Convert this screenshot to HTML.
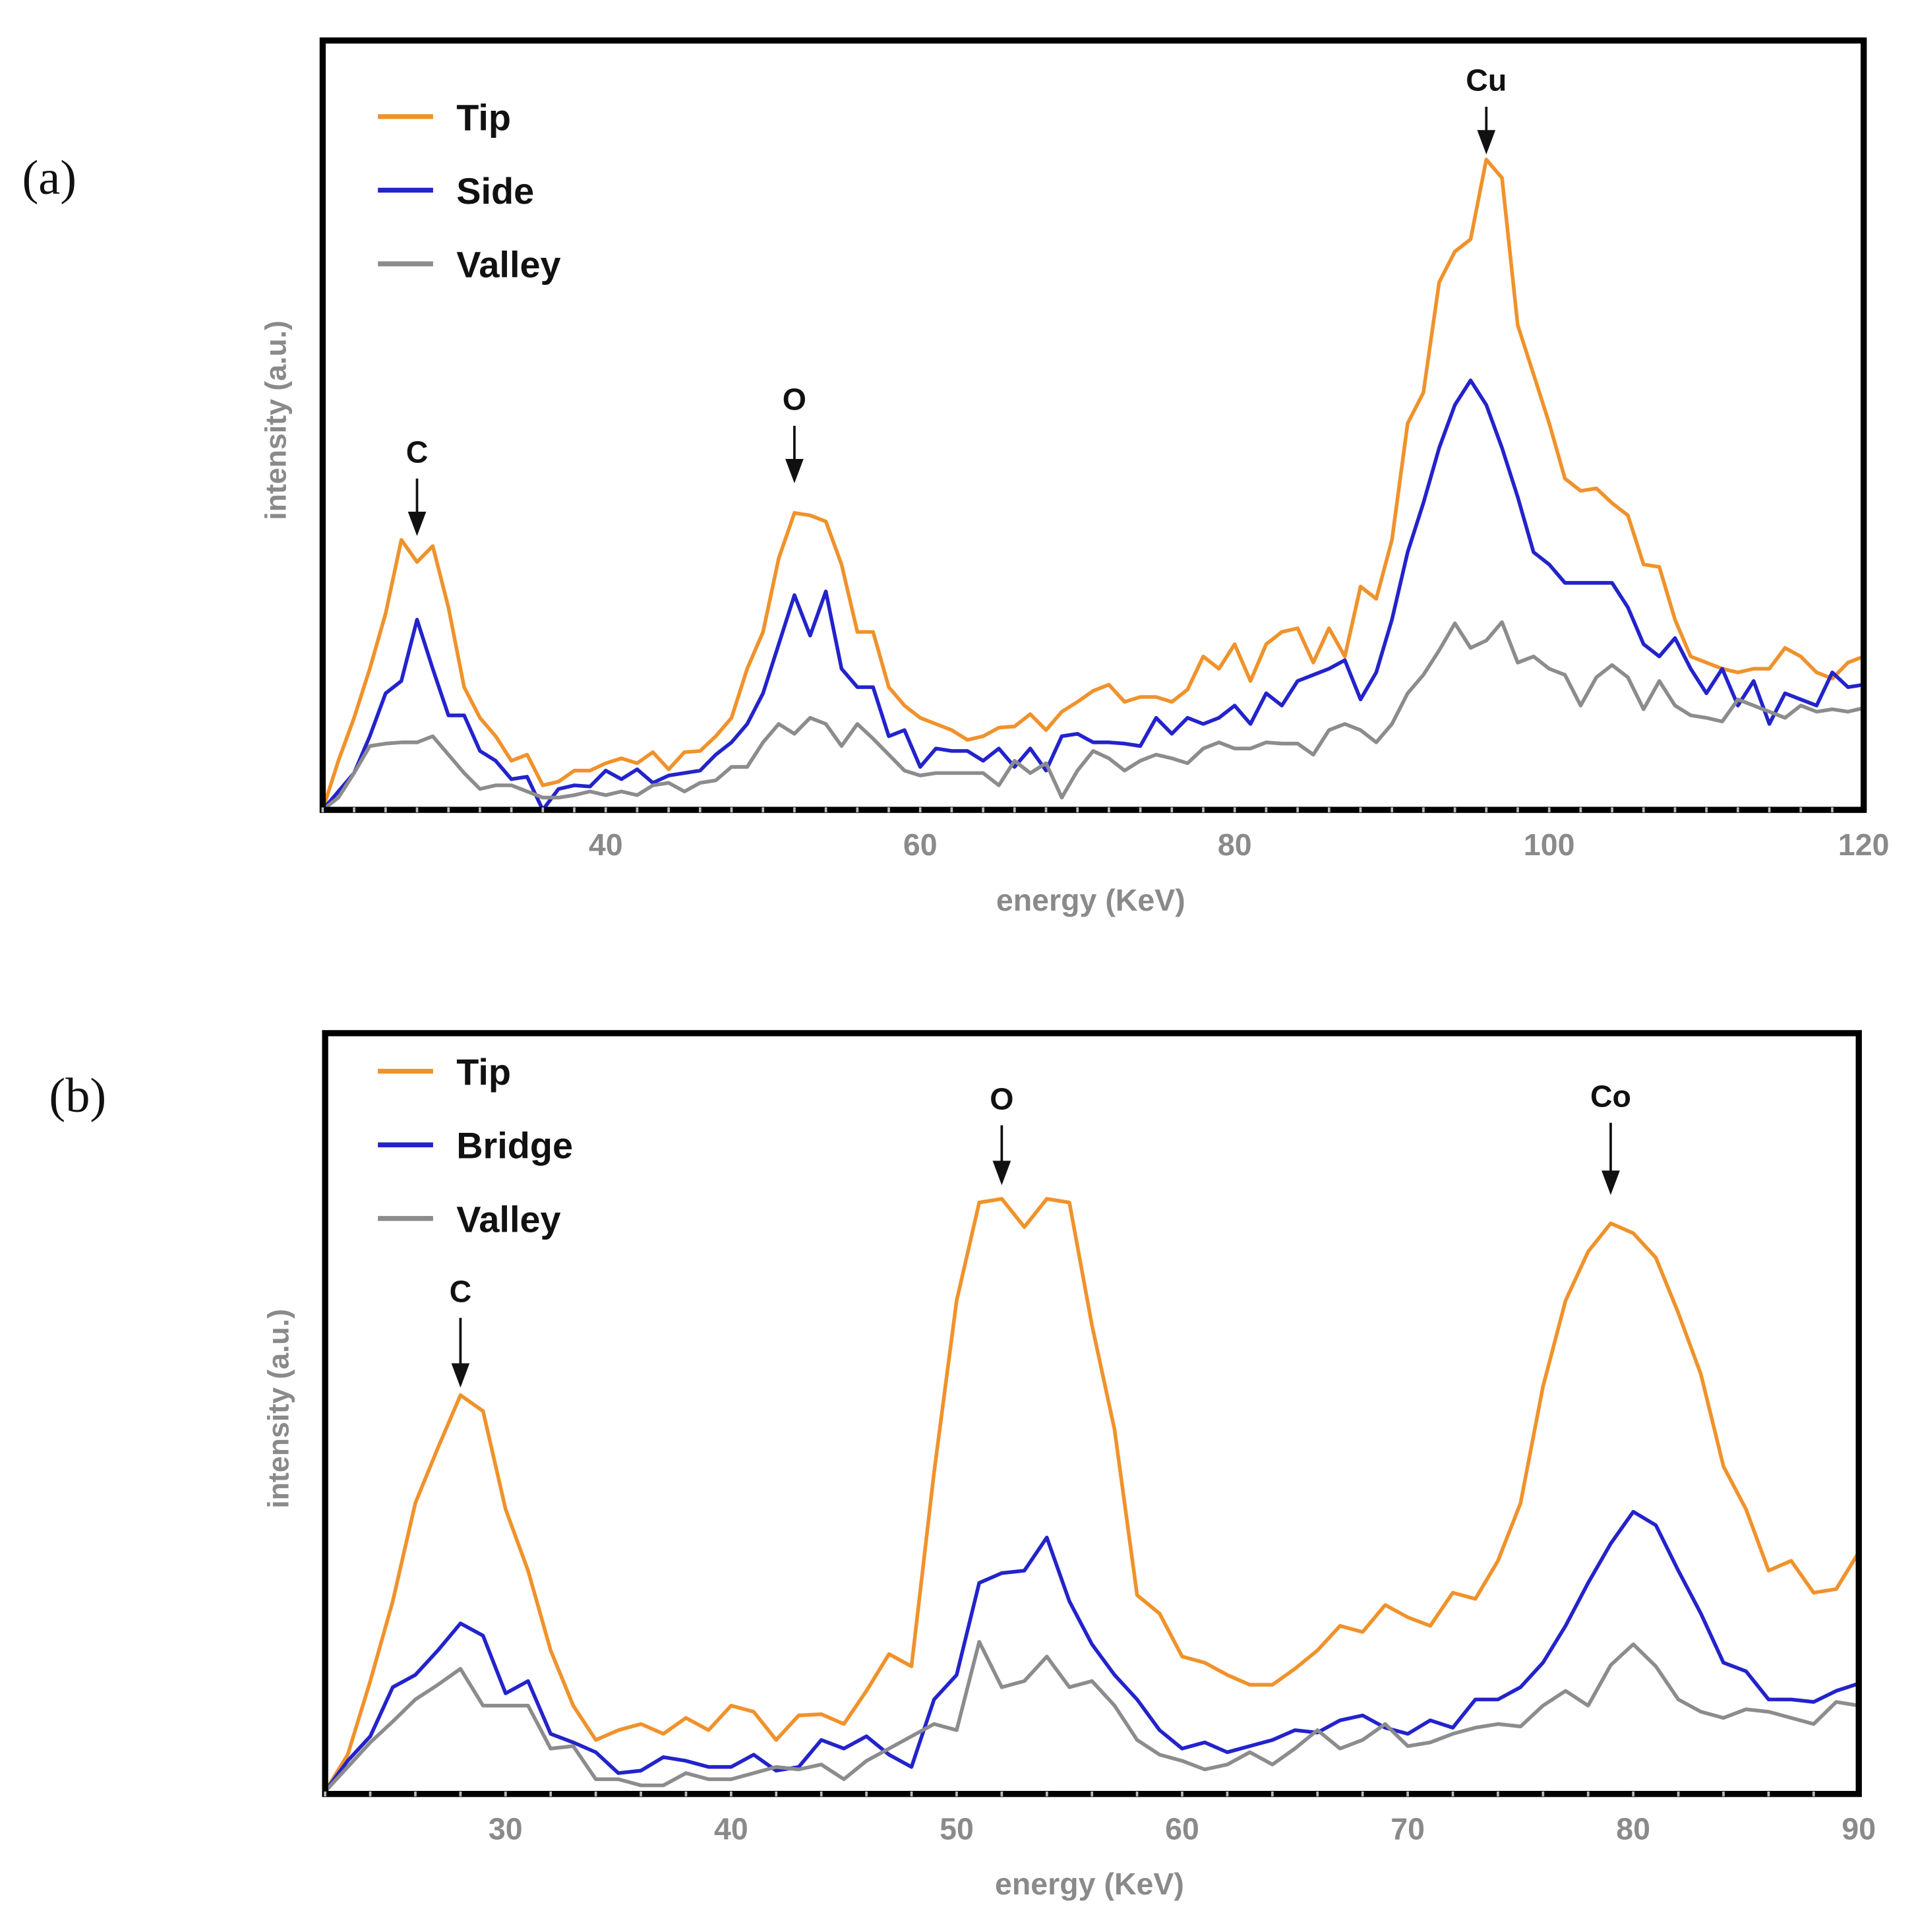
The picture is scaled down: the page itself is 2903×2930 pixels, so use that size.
<!DOCTYPE html>
<html><head><meta charset="utf-8"><style>
html,body{margin:0;padding:0;background:#fff}
svg{display:block}
text{font-family:"Liberation Sans",Arial,sans-serif}
</style></head><body>
<svg id="fig" width="2903" height="2930" viewBox="0 0 1560 1574.5" preserveAspectRatio="none" xmlns="http://www.w3.org/2000/svg">
<text x="18" y="158" font-size="40" fill="#111" style="font-family:'Liberation Serif',serif">(a)</text>
<text x="40" y="906" font-size="40" fill="#111" style="font-family:'Liberation Serif',serif">(b)</text>
<g id="pa"></g>
<g id="pb"></g>
</svg>
<script>
// Panel (a) data
const xA = []; for (let e = 22; e <= 120; e++) xA.push(e);
const tipA = [0,40,75,115,160,220,202,215,165,100, 75,60,40,45,20,23,32,32,38,42, 38,47,33,47,48,60,75,115,145,205, 242,240,235,200,145,145,100,85,75,70, 65,57,60,67,68,78,65,80,88,97, 102,88,92,92,88,98,125,115,135,105, 135,145,148,120,148,125,182,172,220,315, 340,430,455,465,530,515,395,355,315,270, 260,262,250,240,200,198,155,125,120,115, 112,115,115,132,125,112,107,120,125];
const sideA = [0,15,30,60,95,105,155,115,77,77, 48,40,25,27,0,17,20,19,32,25, 33,22,28,30,32,45,55,70,95,135, 175,142,178,115,100,100,60,65,35,50, 48,48,40,50,35,50,32,60,62,55, 55,54,52,75,62,75,70,75,85,70, 95,85,105,110,115,122,90,112,155,210, 250,295,330,350,330,295,255,210,200,185, 185,185,185,165,135,125,140,115,95,115, 85,105,70,95,90,85,112,100,102];
const valleyA = [0,10,30,52,54,55,55,60,45,30, 17,20,20,15,10,10,12,15,12,15, 12,20,22,15,22,24,35,35,55,70, 62,75,70,52,70,58,45,32,28,30, 30,30,30,20,40,30,38,10,32,48, 42,32,40,45,42,38,50,55,50,50, 55,54,54,45,65,70,65,55,70,95, 110,130,152,132,138,153,120,125,115,110, 85,108,118,108,82,105,85,77,75,72, 90,85,80,75,85,80,82,80,83];
const ticksA = [40,60,80,100,120];
const namesA = ["Tip","Side","Valley"];
const peaksA = [{l:"C",x:28,v:222},{l:"O",x:52,v:265},{l:"Cu",x:96,v:533}];
const peakGapA = [70,70,62];

// Panel (b) data
const xB = []; for (let e = 22; e <= 90; e++) xB.push(e);
const tipB = [2,32,92,157,237,282,325,312,232,182, 117,72,44,52,57,49,62,52,72,67, 44,64,65,57,84,114,104,262,402,482, 485,462,485,482,382,297,162,147,112,107, 97,89,89,102,117,137,132,154,144,137, 164,159,190,237,332,402,442,465,457,437, 392,342,267,232,182,190,164,167,197];
const bridgeB = [2,27,47,87,97,117,139,129,82,92, 49,42,34,17,19,30,27,22,22,32, 19,22,44,37,47,32,22,77,97,172, 180,182,209,157,122,97,77,52,37,42, 34,39,44,52,50,60,64,54,49,60, 54,77,77,87,107,137,172,204,230,219, 182,147,107,100,77,77,75,84,90];
const valleyB = [2,22,42,59,77,89,102,72,72,72, 37,39,12,12,7,7,17,12,12,17, 22,20,24,12,27,37,47,57,52,124, 87,92,112,87,92,72,44,32,27,20, 24,34,24,37,52,37,44,57,39,42, 49,54,57,55,72,84,72,105,122,104, 77,67,62,69,67,62,57,75,72];
const ticksB = [30,40,50,60,70,80,90];
const namesB = ["Tip","Bridge","Valley"];
const peaksB = [{l:"C",x:28,v:330},{l:"O",x:52,v:495},{l:"Co",x:79,v:487}];
const peakGapB = [80,72,82];

const COLORS = ["#f0922b","#2323cc","#8c8c8c"];
const NS = "http://www.w3.org/2000/svg";
function mk(parent, tag, attrs, txt){
  const el = document.createElementNS(NS, tag);
  for (const k in attrs) el.setAttribute(k, attrs[k]);
  if (txt !== undefined) el.textContent = txt;
  parent.appendChild(el); return el;
}
function draw(g, cfg){
  const {L,R,T,B,xmin,xmax,ymax,xs,series,names,ticks,minorStep,peaks,gaps,legY,id} = cfg;
  const sx = v => L + (v - xmin) / (xmax - xmin) * (R - L);
  const sy = v => B - v / ymax * (B - T);
  series.forEach((s, i) => {
    const d = s.map((v, j) => (j ? "L" : "M") + sx(xs[j]).toFixed(1) + " " + sy(v).toFixed(1)).join(" ");
    const p = mk(g, "path", {d, fill:"none", stroke:COLORS[i], "stroke-width":3, "stroke-linejoin":"round"});
    
    
  });
  const fr = mk(g, "rect", {x:L, y:T, width:R-L, height:B-T, fill:"none", stroke:"#000", "stroke-width":5});
  
  
  for (let t = Math.ceil(xmin / minorStep) * minorStep; t < xmax; t += minorStep) {
    const m = mk(g, "line", {x1:sx(t), x2:sx(t), y1:B-2, y2:B+2, stroke:"#bbb", "stroke-width":2});
    
    
  }
  ticks.forEach(t => {
    const tl = mk(g, "text", {x:sx(t), y:B+37, "text-anchor":"middle", "font-size":25, "font-weight":"bold", fill:"#8a8a8a"}, String(t));
    
    
  });
  const xt = mk(g, "text", {x:(L+R)/2 - 2, y:B+82, "text-anchor":"middle", "font-size":25, "font-weight":"bold", fill:"#8a8a8a"}, "energy (KeV)");
  
  
  const cy = (T+B)/2 - 4;
  const yt = mk(g, "text", {x:0, y:0, transform:`translate(${L-30},${cy}) rotate(-90)`, "text-anchor":"middle", "font-size":24, "font-weight":"bold", fill:"#8a8a8a"}, "intensity (a.u.)");
  
  
  names.forEach((n, i) => {
    const y = legY + i * 60;
    const ll = mk(g, "line", {x1:308, x2:353, y1:y, y2:y, stroke:COLORS[i], "stroke-width":4});
    
    
    const lt = mk(g, "text", {x:372, y:y+11, "font-size":30, "font-weight":"bold", fill:"#111"}, n);
    
    
  });
  peaks.forEach((pk, i) => {
    const x = sx(pk.x), tip = sy(pk.v), gap = gaps[i];
    const pl = mk(g, "text", {x, y:tip-gap+9, "text-anchor":"middle", "font-size":25, "font-weight":"bold", fill:"#111"}, pk.l);
    
    
    const ar = mk(g, "path", {d:`M${x} ${tip-gap+22} L${x} ${tip-10} M${x-6} ${tip-20} L${x} ${tip-4} L${x+6} ${tip-20} Z`, stroke:"#111", "stroke-width":2, fill:"#111"});
    
    
  });
}
draw(document.getElementById("pa"), {id:"a", L:263, R:1519, T:33, B:660, xmin:22, xmax:120, ymax:627, xs:xA,
  series:[tipA, sideA, valleyA], names:namesA, ticks:ticksA, minorStep:2, peaks:peaksA, gaps:peakGapA, legY:95});
draw(document.getElementById("pb"), {id:"b", L:265, R:1515, T:842, B:1462, xmin:22, xmax:90, ymax:620, xs:xB,
  series:[tipB, bridgeB, valleyB], names:namesB, ticks:ticksB, minorStep:2, peaks:peaksB, gaps:peakGapB, legY:873});
</script>
</body></html>
